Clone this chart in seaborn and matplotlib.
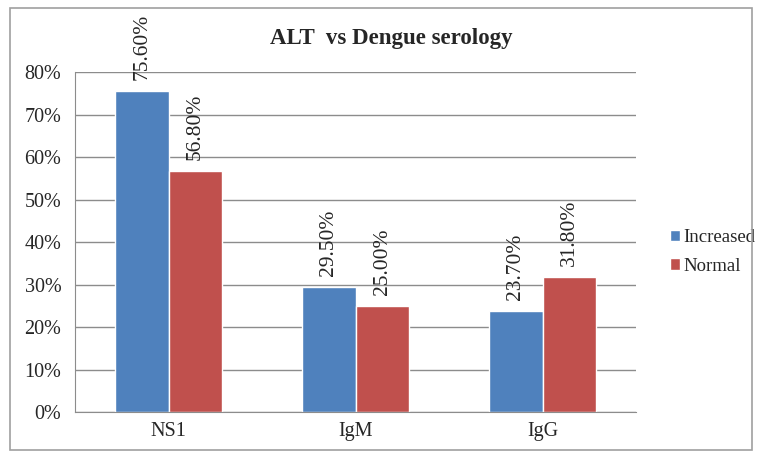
import matplotlib
matplotlib.use("Agg")
import matplotlib.pyplot as plt
import seaborn as sns
import pandas as pd
from matplotlib.patches import Rectangle

categories = ["NS1", "IgM", "IgG"]
increased = [75.6, 29.5, 23.7]
normal = [56.8, 25.0, 31.8]
series = ["Increased", "Normal"]
colors = ["#4F81BD", "#C0504D"]

df = pd.DataFrame({
    "group": categories * 2,
    "series": [series[0]] * 3 + [series[1]] * 3,
    "value": increased + normal,
})

sns.set_style("white")
plt.rcParams["font.family"] = ["Liberation Serif", "DejaVu Serif"]

fig = plt.figure(figsize=(7.59, 4.54), dpi=100)
ax = fig.add_axes([0.099, 0.0925, 0.739, 0.7485])

sns.barplot(data=df, x="group", y="value", hue="series", palette=colors,
            width=0.57, gap=0, saturation=1, ax=ax, legend=True)

for c in ax.containers:
    ax.bar_label(c, labels=[f"{v:.2f}%" for v in c.datavalues],
                 rotation=90, padding=8, fontsize=15.5)

ax.set_ylim(0, 80)
ax.set_yticks(range(0, 81, 10))
ax.set_yticklabels([f"{t}%" for t in range(0, 81, 10)], fontsize=14.5)
ax.tick_params(axis="x", labelsize=14.5, length=0, pad=7)
ax.tick_params(axis="y", length=0, pad=10)
ax.set_xlabel("")
ax.set_ylabel("")
ax.yaxis.grid(True, color="#8c8c8c", linewidth=1)
ax.set_axisbelow(True)
for s in ["top", "right"]:
    ax.spines[s].set_visible(False)
ax.spines["left"].set_color("#8c8c8c")
ax.spines["bottom"].set_color("#8c8c8c")

ax.legend(loc="center left", bbox_to_anchor=(0.86, 0.445),
          bbox_transform=fig.transFigure, frameon=False,
          prop={"family": "Liberation Serif", "size": 13.5},
          handlelength=0.55, handleheight=0.55, handletextpad=0.2,
          labelspacing=0.6)

fig.text(0.515, 0.915, "ALT  vs Dengue serology", ha="center", va="center",
         fontsize=16.5, fontweight="bold")

fig.patches.append(Rectangle((0.013, 0.008), 0.978, 0.975,
                             transform=fig.transFigure, fill=False,
                             edgecolor="#a0a0a0", linewidth=1.2))

fig.savefig("out.png", dpi=100)
